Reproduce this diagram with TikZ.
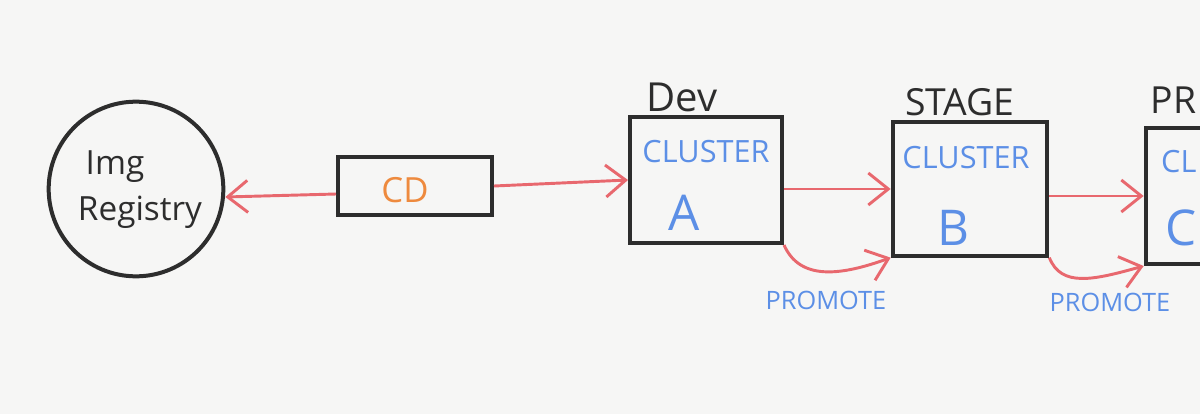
\documentclass[tikz,border=0pt]{standalone}
\usepackage{fontspec}
\setmainfont{Open Sans}
\usetikzlibrary{arrows.meta}

\definecolor{paper}{RGB}{246,246,245}
\definecolor{ink}{RGB}{45,45,45}
\definecolor{flowred}{RGB}{232,104,110}
\definecolor{penblue}{RGB}{92,143,230}
\definecolor{penorange}{RGB}{238,138,62}

\tikzset{every picture/.style={line width=0.75pt}}
\tikzset{
  envbox/.style={draw=ink, line width=3pt, rectangle, inner sep=0pt},
  flow/.style={draw=flowred, line width=2.2pt, -{Straight Barb[length=15pt,width=24pt,line width=2.2pt]}},
  blk/.style={text=ink, inner sep=0.75pt},
  blu/.style={text=penblue, inner sep=0.75pt},
}

\begin{document}
\begin{tikzpicture}[x=0.75pt,y=0.75pt,yscale=-1,xscale=1]

\path [use as bounding box, fill=paper] (0,0) rectangle (1200,414) ;
\clip (0,0) rectangle (1200,414) ;

\node [envbox, circle, minimum size=131pt] (registry) at (136,189) {};
\node [envbox, minimum width=115.5pt, minimum height=43pt] (cd) at (415,186) {};
\node [envbox, minimum width=114pt, minimum height=94.5pt] (devbox) at (706,180) {};
\node [envbox, minimum width=116pt, minimum height=100pt] (stagebox) at (970,189) {};
\node [envbox, minimum width=116pt, minimum height=102pt] (prodbox) at (1223,196) {};

\draw [flow] ([yshift=6pt]cd.west) -- ([yshift=6pt]registry.east) ;
\draw [flow] (cd.east) -- (devbox.west) ;
\draw [flow] (devbox.east |- stagebox.west) -- (stagebox.west) ;
\draw [flow] (stagebox.east |- prodbox.west) -- (prodbox.west) ;
\draw [flow] (devbox.south east) .. controls +(16,36) and +(-50,18) .. (stagebox.south west) ;
\draw [flow] (stagebox.south east) .. controls +(12,30) and +(-50,14) .. (prodbox.south west) ;

\node [blk, font=\fontsize{25}{25}\selectfont] (imglabel) at (115,167) {Img};
\node [blk, font=\fontsize{25}{25}\selectfont] (reglabel) at (140,212) {Registry};
\node [text=penorange, font=\fontsize{26}{26}\selectfont] (cdlabel) at (405,190) {CD};

\node [blk, font=\fontsize{30}{30}\selectfont] (devlabel) at (682,97) {Dev};
\node [blk, font=\fontsize{28}{28}\selectfont] (stagelabel) at (960,102) {STAGE};
\node [blk, font=\fontsize{28}{28}\selectfont, anchor=east] (prodlabel) at (1198,100) {PR};

\node [blu, font=\fontsize{23}{23}\selectfont] (clusterA) at (706,152) {CLUSTER};
\node [blu, font=\fontsize{23}{23}\selectfont] (clusterB) at (966,158) {CLUSTER};
\node [blu, font=\fontsize{23}{23}\selectfont, anchor=east] (clusterC) at (1198,162) {CL};
\node [blu, font=\fontsize{37}{37}\selectfont] (nameA) at (684,213) {A};
\node [blu, font=\fontsize{37}{37}\selectfont] (nameB) at (953,228) {B};
\node [blu, font=\fontsize{37}{37}\selectfont, anchor=east] (nameC) at (1198,228) {C};

\node [blu, font=\fontsize{19}{19}\selectfont] (promoteA) at (826,300) {PROMOTE};
\node [blu, font=\fontsize{19}{19}\selectfont] (promoteB) at (1110,302) {PROMOTE};

\end{tikzpicture}
\end{document}
